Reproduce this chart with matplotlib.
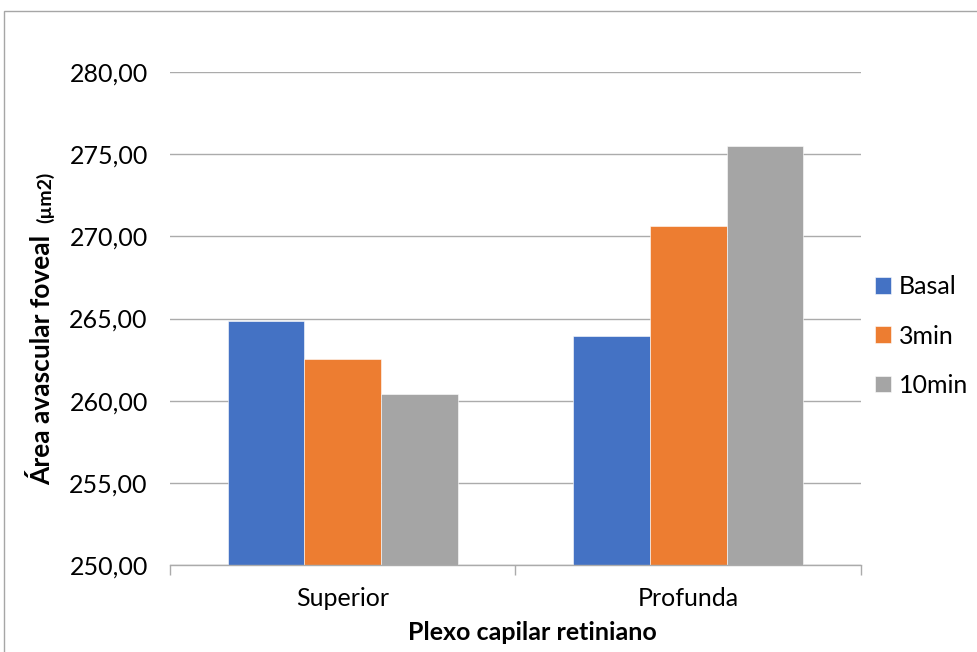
import numpy as np
import matplotlib
matplotlib.use("Agg")
import matplotlib.pyplot as plt
from matplotlib.patches import Rectangle
from matplotlib.ticker import FuncFormatter

categories = ["Superior", "Profunda"]
series = ["Basal", "3min", "10min"]
values = {
	"Basal": [264.85, 263.93],
	"3min": [262.55, 270.62],
	"10min": [260.40, 275.48],
}
colors = ["#4472C4", "#ED7D31", "#A5A5A5"]
yticks = [250, 255, 260, 265, 270, 275, 280]

plt.rcParams["font.family"] = ["Lato", "DejaVu Sans"]

fig = plt.figure(figsize=(9.78, 6.52), dpi=100)
# outer chart frame
fig.patches.append(Rectangle((4 / 978, -0.1), 1.2, 1 - 11 / 652 + 0.1, transform=fig.transFigure,
	fill=False, edgecolor="#A6A6A6", linewidth=1.0))

ax = fig.add_axes([170 / 978, 1 - 565 / 652, (861 - 170) / 978, (565 - 72) / 652])

x = np.arange(len(categories))
w = 1 / 4.5
for i, (name, c) in enumerate(zip(series, colors)):
	ax.bar(x + (i - 1) * w, values[name], width=w, bottom=0, color=c, label=name,
		edgecolor="white", linewidth=0.4, zorder=3)

ax.set_ylim(250, 280)
ax.set_xlim(-0.5, 1.5)
ax.set_yticks(yticks)
ax.yaxis.set_major_formatter(FuncFormatter(lambda v, p: f"{v:.2f}".replace(".", ",")))
ax.grid(axis="y", color="#ABABAB", linewidth=1.0, zorder=0)
for s in ["top", "right", "left"]:
	ax.spines[s].set_visible(False)
ax.spines["bottom"].set_color("#ABABAB")
ax.spines["bottom"].set_linewidth(1.0)
ax.spines["bottom"].set_zorder(4)

ax.set_xticks(x)
ax.set_xticklabels(categories)
ax.set_xticks([-0.5, 0.5, 1.5], minor=True)
ax.tick_params(axis="x", which="major", length=0, pad=16, labelsize=18, colors="#000000")
ax.tick_params(axis="x", which="minor", length=7, color="#ABABAB", width=1.0)
ax.tick_params(axis="y", length=0, pad=16, labelsize=18)

fig.text(0.5 * (410 + 655) / 978, 1 - 632 / 652, "Plexo capilar retiniano", ha="center", va="center",
	fontsize=18, fontweight="bold")
fig.text(42 / 978, 1 - 485 / 652, "Área avascular foveal", rotation=90, ha="center", va="bottom",
	fontsize=19, fontweight="bold")
fig.text(45 / 978, 1 - 172 / 652, "(µm2)", rotation=90, ha="center", va="top",
	fontsize=14, fontweight="bold")

ax.legend(loc="center left", frameon=False,
	fontsize=18, handlelength=0.65, handleheight=0.65, handletextpad=0.3, labelspacing=1.05,
	borderaxespad=0, borderpad=0)
leg = ax.get_legend()
leg.set_bbox_to_anchor((875 / 978, 1 - 336 / 652), transform=fig.transFigure)

fig.savefig("out.png", dpi=100)
